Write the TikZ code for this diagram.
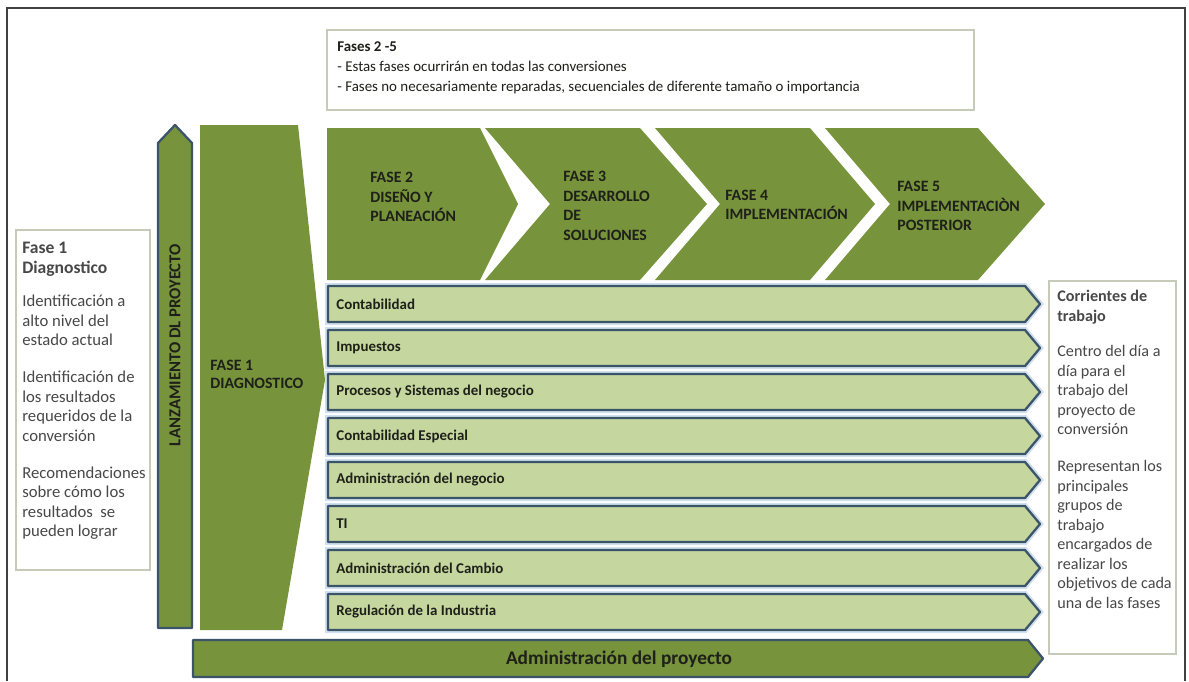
\documentclass[tikz,border=0pt]{standalone}
\usepackage{fontspec}
\setmainfont{Carlito}
\usetikzlibrary{positioning}
\definecolor{phasegreen}{RGB}{119,147,60}
\definecolor{streamgreen}{RGB}{197,215,158}
\definecolor{slate}{RGB}{60,84,106}
\definecolor{halo}{RGB}{208,224,238}
\definecolor{boxline}{RGB}{198,202,184}
\definecolor{ink}{RGB}{30,32,25}
\definecolor{greyink}{RGB}{72,72,72}
\tikzset{%
	phase/.style     = {fill=phasegreen, draw=none},
	band/.style      = {fill=phasegreen, draw=slate, line width=1.3pt, line join=round},
	stream/.style    = {fill=streamgreen, draw=slate, line width=1.3pt, line join=round, preaction={draw=halo, line width=3.4pt}},
	infobox/.style   = {draw=boxline, line width=1pt, fill=white},
	phasetext/.style = {anchor=west, inner sep=0pt, align=left, text=ink, font=\fontsize{9}{11.2}\selectfont\bfseries},
	streamtext/.style= {anchor=west, inner sep=0pt, text=ink, font=\fontsize{8.5}{10}\selectfont\bfseries},
	sidetext/.style  = {anchor=north west, inner sep=0pt, align=left, text=greyink, font=\fontsize{9.5}{11.1}\selectfont},
}
\begin{document}
\begin{tikzpicture}[x=0.02cm, y=-0.02cm]
		\useasboundingbox (0,0) rectangle (1189,681);
		\draw[black!75, line width=0.8pt] (7,681) -- (7,8) -- (1185,8) -- (1185,681);
		
		\draw[infobox] (327,30) rectangle (974,110);
		\node[sidetext, text=ink, font=\fontsize{8.5}{11.4}\selectfont] (fases) at (337,41) {\textbf{Fases 2 -5}\\- Estas fases ocurrirán en todas las conversiones\\- Fases no necesariamente reparadas, secuenciales de diferente tamaño o importancia};
		
		\draw[infobox] (16,230) rectangle (150,570);
		\node[sidetext] (diag) at (22,242) {\textbf{\fontsize{10}{11.1}\selectfont Fase 1}\\\textbf{\fontsize{10}{11.1}\selectfont Diagnostico}\\[8pt]Identificación a\\alto nivel del\\estado actual\\[10pt]Identificación de\\los resultados\\requeridos de la\\conversión\\[10pt]Recomendaciones\\sobre cómo los\\resultados~ se\\pueden lograr};
		
		\draw[infobox] (1049,281) rectangle (1176,654);
		\node[sidetext, font=\fontsize{9.2}{11.1}\selectfont] (corr) at (1057,290) {\textbf{Corrientes de}\\\textbf{trabajo}\\[9pt]Centro del día a\\día para el\\trabajo del\\proyecto de\\conversión\\[10pt]Representan los\\principales\\grupos de\\trabajo\\encargados de\\realizar los\\objetivos de cada\\una de las fases};
		
		\draw[band] (158,628) -- (158,143) -- (175,125) -- (192,143) -- (192,628) -- cycle;
		\node[rotate=90, inner sep=0pt, text=ink, font=\fontsize{9.5}{11}\selectfont\bfseries] (lanz) at (175,345) {LANZAMIENTO DL PROYECTO};
		
		\fill[phase] (200,125) -- (298,125) -- (325,380) -- (282,630) -- (200,630) -- cycle;
		\node[phasetext, font=\fontsize{9}{10.3}\selectfont\bfseries] (f1) at (210,374) {FASE 1\\DIAGNOSTICO};
		
		\fill[phase] (327,128) -- (480,128) -- (518,204) -- (480,280) -- (327,280) -- cycle;
		\fill[phase] (485,128) -- (640,128) -- (707,204) -- (640,280) -- (485,280) -- (550,204) -- cycle;
		\fill[phase] (655,128) -- (810,128) -- (875,204) -- (810,280) -- (655,280) -- (720,204) -- cycle;
		\fill[phase] (825,128) -- (978,128) -- (1045,204) -- (978,280) -- (825,280) -- (890,204) -- cycle;
		\node[phasetext] (f2) at (370,197) {FASE 2\\DISEÑO Y\\PLANEACIÓN};
		\node[phasetext] (f3) at (563,206) {FASE 3\\DESARROLLO\\DE\\SOLUCIONES};
		\node[phasetext] (f4) at (725,205) {FASE 4\\IMPLEMENTACIÓN};
		\node[phasetext] (f5) at (897,206) {FASE 5\\IMPLEMENTACIÒN\\POSTERIOR};
		
		\foreach \lbl [count=\i from 0] in {Contabilidad,Impuestos,Procesos y Sistemas del negocio,Contabilidad Especial,Administración del negocio,TI,Administración del Cambio,Regulación de la Industria}{
			\pgfmathsetmacro{\yt}{286+44*\i}
			\draw[stream] (328,\yt) -- (1025,\yt) -- (1040,\yt+18) -- (1025,\yt+36) -- (328,\yt+36) -- cycle;
			\node[streamtext] (s\i) at (336,\yt+18) {\lbl};
		}
		
		\draw[band] (193,640) -- (1028,640) -- (1043,658.5) -- (1028,677) -- (193,677) -- cycle;
		\node[inner sep=0pt, text=ink, font=\fontsize{11}{13}\selectfont\bfseries] (adm) at (619,659) {Administración del proyecto};
		\end{tikzpicture}
\end{document}
